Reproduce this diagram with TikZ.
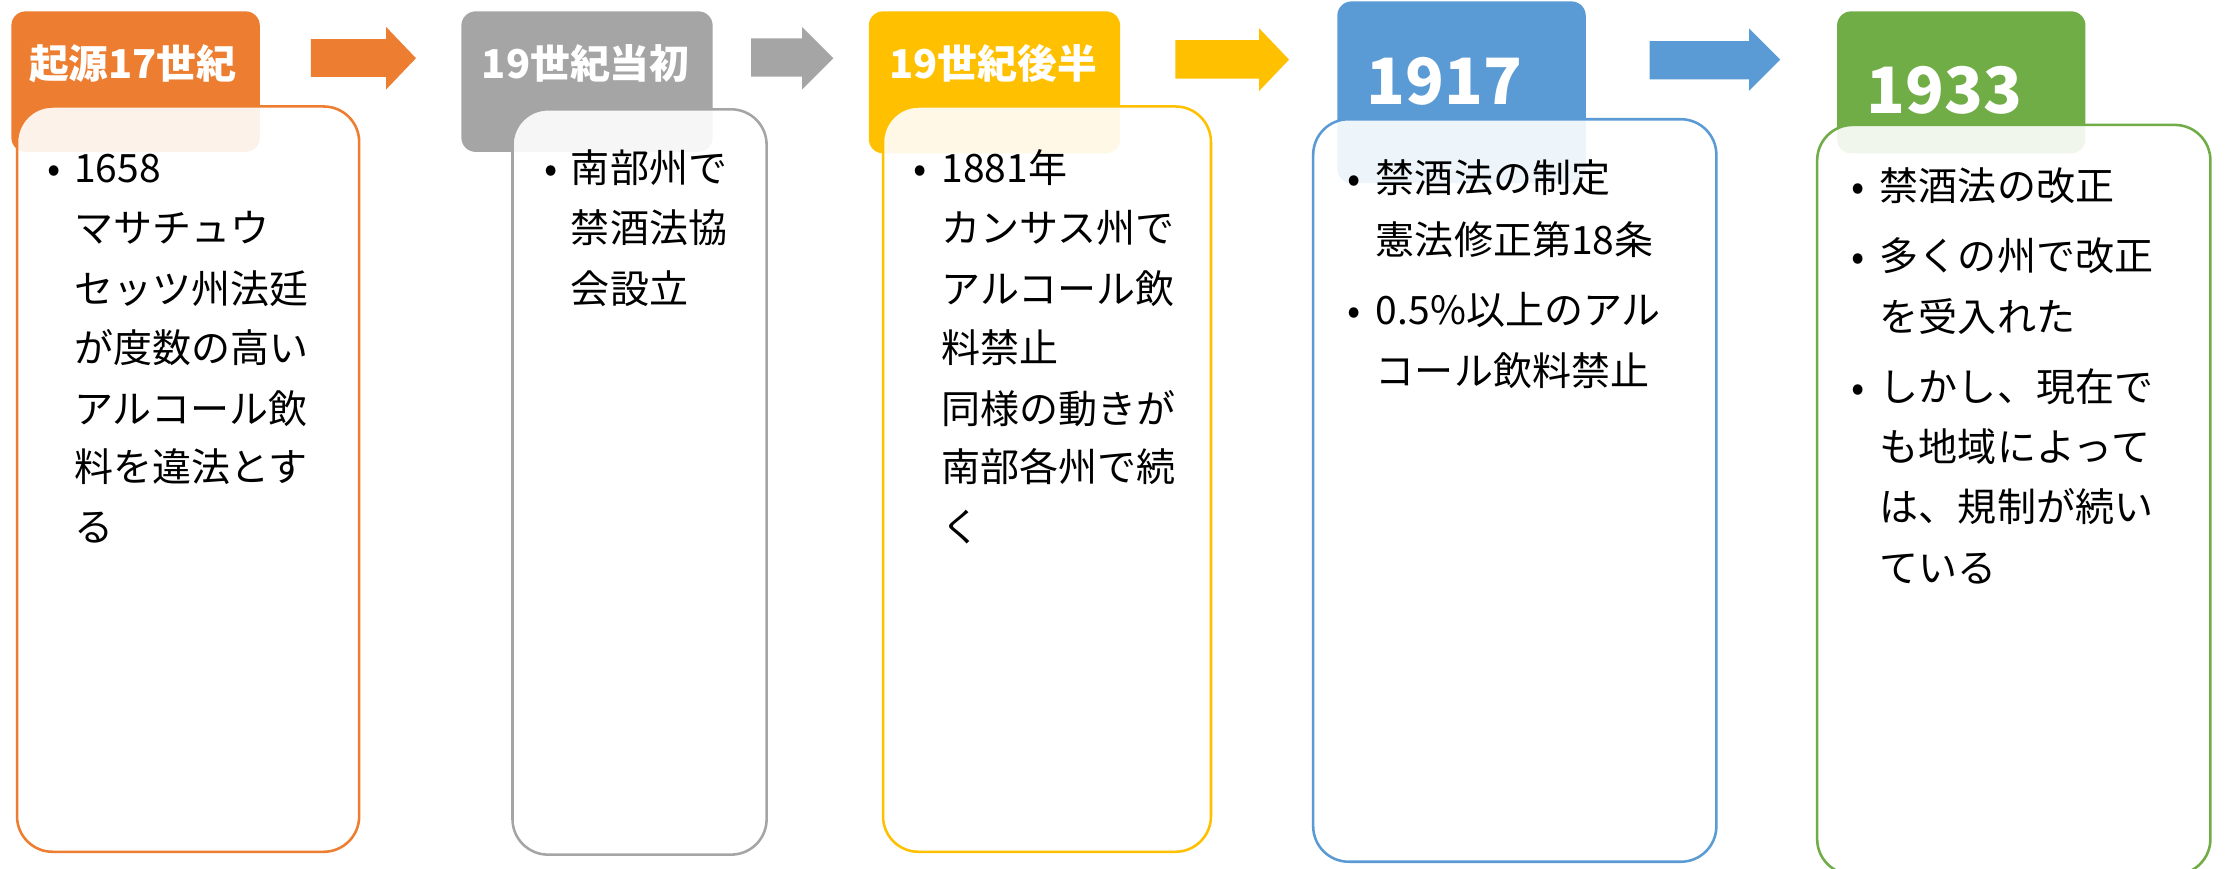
\documentclass[tikz,border=0pt]{standalone}
\usepackage{fontspec}
\setmainfont{Noto Sans CJK JP}
\definecolor{cOrange}{HTML}{ED7D31}
\definecolor{cGray}{HTML}{A5A5A5}
\definecolor{cGold}{HTML}{FFC000}
\definecolor{cBlue}{HTML}{5B9BD5}
\definecolor{cGreen}{HTML}{70AD47}
\begin{document}
\begin{tikzpicture}[x=1pt,y=-1pt,
  hdrbox/.style={rounded corners=10pt},
  bodybox/.style={rounded corners=25pt, line width=1.8pt, fill=white, fill opacity=0.9},
  txt/.style={inner sep=0pt, anchor=base west, text=black, font=\fontsize{27.5pt}{33pt}\selectfont},
  bul/.style={inner sep=0pt, anchor=base, text=black, font=\fontsize{27.5pt}{33pt}\selectfont},
  hdrtxt/.style={inner sep=0pt, anchor=base, text=white, font=\bfseries\fontsize{28pt}{34pt}\selectfont},
  yeartxt/.style={inner sep=0pt, anchor=base, text=white, font=\bfseries\fontsize{45pt}{54pt}\selectfont}]
\useasboundingbox (0,0) rectangle (1568,612);
\fill[white] (0,0) rectangle (1568,612);

% block arrows
\fill[cOrange] (219,27.6) -- (272,27.6) -- (272,19) -- (293,41) -- (272,63) -- (272,54.2) -- (219,54.2) -- cycle;
\fill[cGray] (529,27) -- (565,27) -- (565,19) -- (587,41) -- (565,63) -- (565,54) -- (529,54) -- cycle;
\fill[cGold] (828,28.3) -- (887,28.3) -- (887,20) -- (908,42) -- (887,64) -- (887,55.4) -- (828,55.4) -- cycle;
\fill[cBlue] (1162,29) -- (1232,29) -- (1232,20) -- (1254,42) -- (1232,64) -- (1232,56) -- (1162,56) -- cycle;

% headers
\fill[hdrbox, cOrange] (8,8) rectangle (183,107);
\fill[hdrbox, cGray] (325,8) rectangle (502,107);
\fill[hdrbox, cGold] (612,8) rectangle (789,108);
\fill[hdrbox, cBlue] (942,1) rectangle (1117,129);
\fill[hdrbox, cGreen] (1294,8) rectangle (1469,108);

% header texts
\node[hdrtxt] (h1) at (93.5,55.6) {起源17世紀};
\node[hdrtxt] (h2) at (412.5,55.6) {19世紀当初};
\node[hdrtxt] (h3) at (699.5,55.6) {19世紀後半};
\node[yeartxt] (h4) at (1017.5,73.5) {1917};
\node[yeartxt] (h5) at (1369.5,80) {1933};

% bodies
\draw[bodybox, draw=cOrange] (12,75) rectangle (253,600);
\draw[bodybox, draw=cGray] (361,77) rectangle (540,602);
\draw[bodybox, draw=cGold] (622,75) rectangle (853,600);
\draw[bodybox, draw=cBlue] (925,84) rectangle (1209,607);
\draw[bodybox, draw=cGreen] (1280,88) rectangle (1557,616);

% box 1 text
\node[bul] (p1) at (38,128.5) {•};
\foreach \ty/\tx [count=\i] in {128.5/1658, 170.5/マサチュウ, 213.5/セッツ州法廷, 255.5/が度数の高い, 298.5/アルコール飲, 339.5/料を違法とす, 381.5/る}
  \node[txt] (a\i) at (52,\ty) {\tx};

% box 2 text
\node[bul] (p2) at (388,128.5) {•};
\foreach \ty/\tx [count=\i] in {128.5/南部州で, 170.5/禁酒法協, 213.5/会設立}
  \node[txt] (b\i) at (402,\ty) {\tx};

% box 3 text
\node[bul] (p3) at (648,128.5) {•};
\foreach \ty/\tx [count=\i] in {128.5/1881年, 170.5/カンサス州で, 213.5/アルコール飲, 255.5/料禁止, 298.5/同様の動きが, 339.5/南部各州で続, 381.5/く}
  \node[txt] (c\i) at (663,\ty) {\tx};

% box 4 text
\node[bul] (p4a) at (954,135.5) {•};
\node[bul] (p4b) at (954,228.5) {•};
\foreach \ty/\tx [count=\i] in {135.5/禁酒法の制定, 179.5/憲法修正第18条, 228.5/0.5\%以上のアル, 271.5/コール飲料禁止}
  \node[txt] (d\i) at (969,\ty) {\tx};

% box 5 text
\node[bul] (p5a) at (1309,141.5) {•};
\node[bul] (p5b) at (1309,190.5) {•};
\node[bul] (p5c) at (1309,282.5) {•};
\foreach \ty/\tx [count=\i] in {141.5/禁酒法の改正, 190.5/多くの州で改正, 233.5/を受入れた, 282.5/しかし、現在で, 325/も地域によって, 367.5/は、規制が続い, 410/ている}
  \node[txt] (e\i) at (1324,\ty) {\tx};
\end{tikzpicture}
\end{document}
